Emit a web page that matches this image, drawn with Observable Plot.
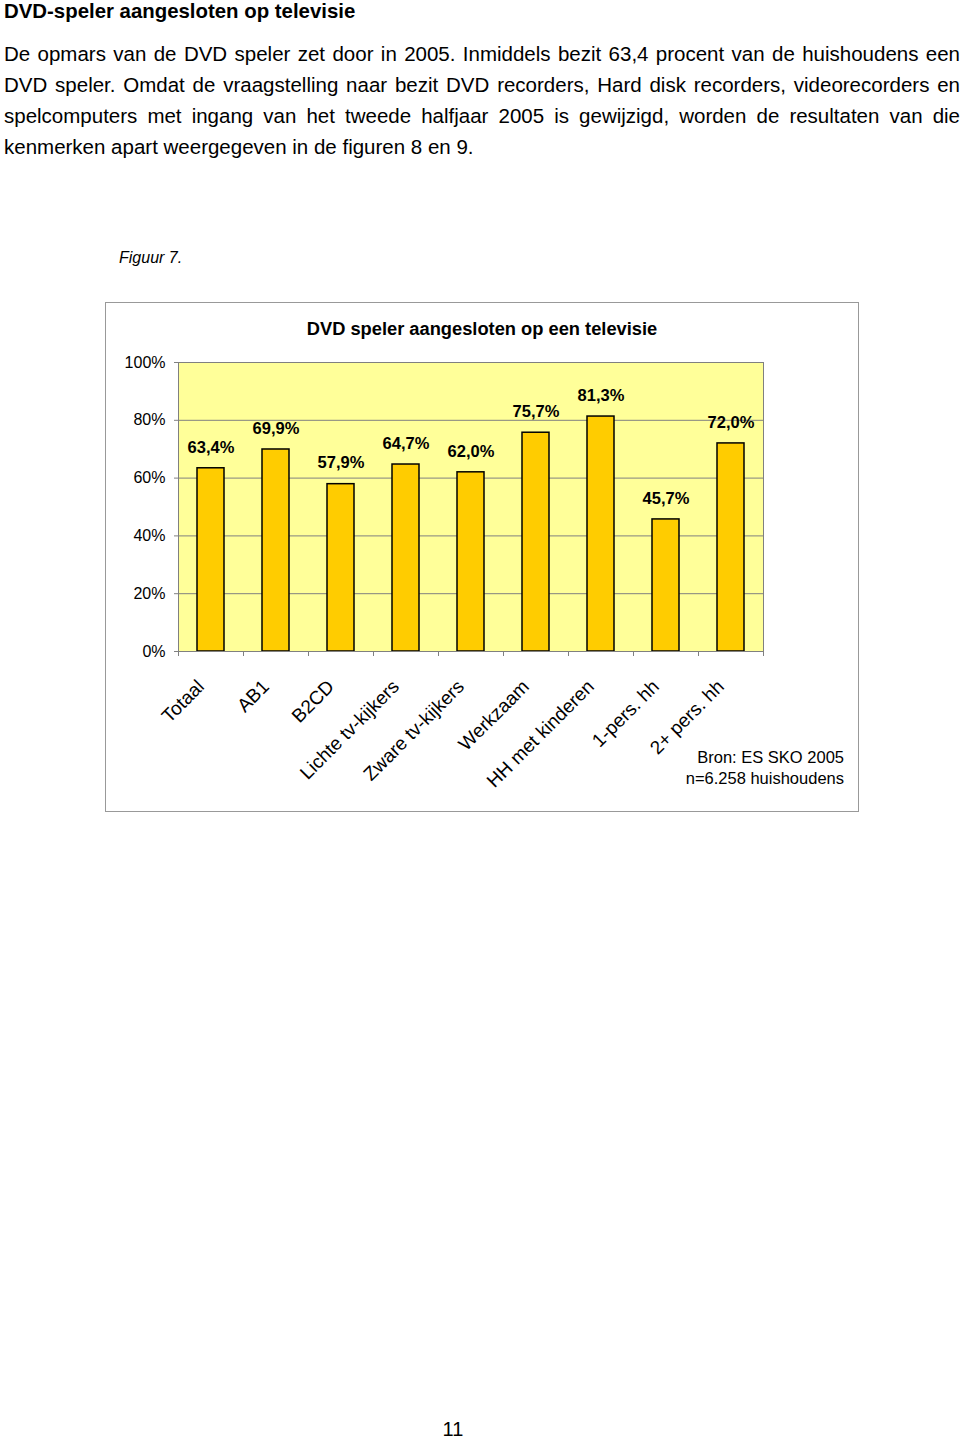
<!DOCTYPE html>
<html>
<head>
<meta charset="utf-8">
<script src="https://cdn.jsdelivr.net/npm/d3@7"></script>
<script src="https://cdn.jsdelivr.net/npm/@observablehq/plot@0.6"></script>
<style>
  html, body { margin: 0; padding: 0; background: #fff; }
  #page { position: relative; width: 960px; height: 1440px; font-family: "Liberation Sans", Arial, sans-serif; color: #000; }
  #h1 { position: absolute; left: 4px; top: 0px; font-size: 20.4px; font-weight: bold; line-height: 22px; }
  #para { position: absolute; left: 4px; top: 38px; width: 956px; font-size: 20.5px; line-height: 31px; text-align: justify; }
  #fig { position: absolute; left: 119px; top: 249px; font-size: 16px; font-style: italic; }
  #box { position: absolute; left: 105px; top: 302px; width: 754px; height: 510px; box-sizing: border-box; border: 1px solid #999; }
  #ctitle { position: absolute; left: 105px; top: 318px; width: 754px; text-align: center; font-size: 18.3px; font-weight: bold; line-height: 22px; }
  #chart { position: absolute; left: 105px; top: 302px; }
  #bron { position: absolute; right: 116px; top: 747px; text-align: right; font-size: 16.5px; line-height: 21px; }
  #pnum { position: absolute; left: 0; width: 906px; top: 1418px; text-align: center; font-size: 20px; }
</style>
</head>
<body>
<div id="page">
  <div id="h1">DVD-speler aangesloten op televisie</div>
  <div id="para">De opmars van de DVD speler zet door in 2005. Inmiddels bezit 63,4 procent van de huishoudens een DVD speler. Omdat de vraagstelling naar bezit DVD recorders, Hard disk recorders, videorecorders en spelcomputers met ingang van het tweede halfjaar 2005 is gewijzigd, worden de resultaten van die kenmerken apart weergegeven in de figuren 8 en 9.</div>
  <div id="fig">Figuur 7.</div>
  <div id="box"></div>
  <div id="chart"></div>
  <div id="ctitle">DVD speler aangesloten op een televisie</div>
  <div id="bron">Bron: ES SKO 2005<br>n=6.258 huishoudens</div>
  <div id="pnum">11</div>
</div>
<script>
const categories = ["Totaal", "AB1", "B2CD", "Lichte tv-kijkers", "Zware tv-kijkers", "Werkzaam", "HH met kinderen", "1-pers. hh", "2+ pers. hh"];
const values = [63.4, 69.9, 57.9, 64.7, 62.0, 75.7, 81.3, 45.7, 72.0];
const yTicks = [0, 20, 40, 60, 80, 100];

const data = categories.map((c, i) => ({c, i, v: values[i]}));
const fmt = d => d.v.toFixed(1).replace(".", ",") + "%";

const chart = Plot.plot({
  width: 753,
  height: 509,
  marginLeft: 73,
  marginRight: 95,
  marginTop: 60,
  marginBottom: 160,
  style: {fontFamily: "'Liberation Sans', Arial, sans-serif", fontSize: "16px", color: "#000", background: "transparent", overflow: "visible"},
  x: {domain: [0, categories.length], axis: null},
  y: {domain: [0, 100], axis: null},
  marks: [
    Plot.frame({fill: "#FFFF99"}),
    Plot.gridY(yTicks, {stroke: "#808080", strokeOpacity: 1}),
    Plot.axisY(yTicks, {tickSize: 4, tickPadding: 9, tickFormat: d => d + "%", stroke: "#808080", fontSize: 16}),
    Plot.axisX(d3.range(categories.length + 1), {tickSize: 5, tickFormat: () => "", stroke: "#808080"}),
    Plot.rectY(data, {x1: d => d.i, x2: d => d.i + 1, y1: 0, y2: d => d.v, insetLeft: 19, insetRight: 19, fill: "#FFCC00", stroke: "#000", strokeWidth: 1.5}),
    Plot.text(data, {x: d => d.i + 0.5, y: d => d.v, text: fmt, dy: -21, fontWeight: "bold", fontSize: 16.5}),
    Plot.text(data, {x: d => d.i + 0.5, frameAnchor: "bottom", text: "c", rotate: -45, textAnchor: "end", lineAnchor: "middle", dx: -10, dy: 32, fontSize: 19}),
    Plot.frame({stroke: "#808080"})
  ]
});
document.getElementById("chart").appendChild(chart);
</script>
</body>
</html>
